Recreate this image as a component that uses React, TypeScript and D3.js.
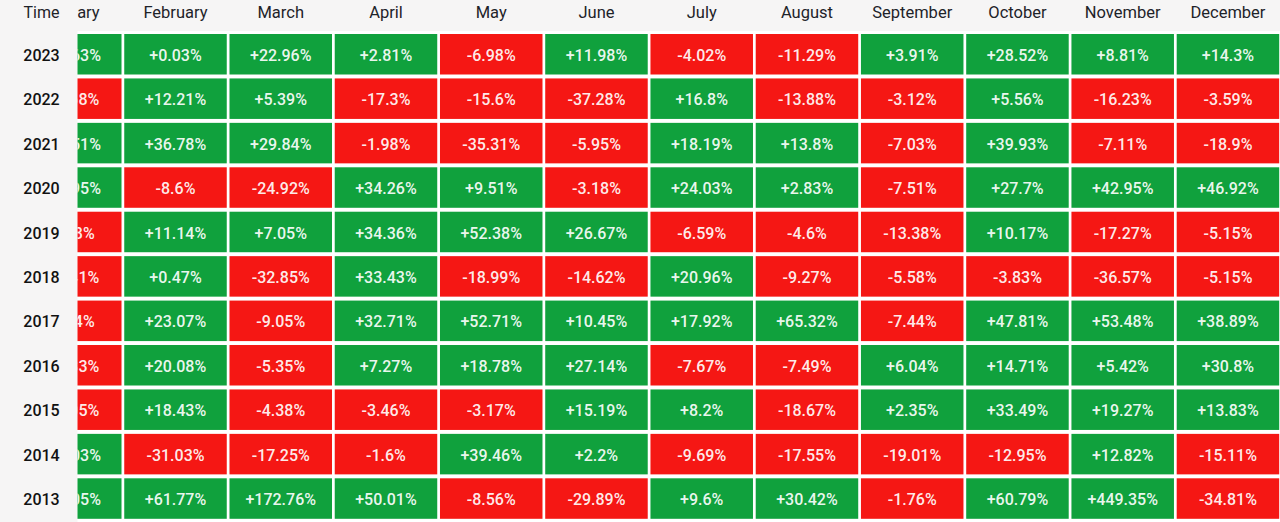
import React from 'react';
import * as d3 from 'd3';

// monthly returns (%), one array per year, January..December
const months = ['January', 'February', 'March', 'April', 'May', 'June', 'July', 'August', 'September', 'October', 'November', 'December'];
const years = ['2023', '2022', '2021', '2020', '2019', '2018', '2017', '2016', '2015', '2014', '2013'];

const r2023 = [39.63, 0.03, 22.96, 2.81, -6.98, 11.98, -4.02, -11.29, 3.91, 28.52, 8.81, 14.3];
const r2022 = [-16.68, 12.21, 5.39, -17.3, -15.6, -37.28, 16.8, -13.88, -3.12, 5.56, -16.23, -3.59];
const r2021 = [14.51, 36.78, 29.84, -1.98, -35.31, -5.95, 18.19, 13.8, -7.03, 39.93, -7.11, -18.9];
const r2020 = [29.95, -8.6, -24.92, 34.26, 9.51, -3.18, 24.03, 2.83, -7.51, 27.7, 42.95, 46.92];
const r2019 = [-8.58, 11.14, 7.05, 34.36, 52.38, 26.67, -6.59, -4.6, -13.38, 10.17, -17.27, -5.15];
const r2018 = [-25.41, 0.47, -32.85, 33.43, -18.99, -14.62, 20.96, -9.27, -5.58, -3.83, -36.57, -5.15];
const r2017 = [-0.04, 23.07, -9.05, 32.71, 52.71, 10.45, 17.92, 65.32, -7.44, 47.81, 53.48, 38.89];
const r2016 = [-14.83, 20.08, -5.35, 7.27, 18.78, 27.14, -7.67, -7.49, 6.04, 14.71, 5.42, 30.8];
const r2015 = [-33.05, 18.43, -4.38, -3.46, -3.17, 15.19, 8.2, -18.67, 2.35, 33.49, 19.27, 13.83];
const r2014 = [10.03, -31.03, -17.25, -1.6, 39.46, 2.2, -9.69, -17.55, -19.01, -12.95, 12.82, -15.11];
const r2013 = [44.05, 61.77, 172.76, 50.01, -8.56, -29.89, 9.6, 30.42, -1.76, 60.79, 449.35, -34.81];

const rows = [r2023, r2022, r2021, r2020, r2019, r2018, r2017, r2016, r2015, r2014, r2013];

const W = 1280;
const H = 522;
const stickyW = 77.5; // width of the fixed "Time" column
const headerH = 31;
const GREEN = '#10a13d';
const RED = '#f51714';
const BG = '#f6f5f5';
const FONT = 'Roboto, "Noto Sans", sans-serif';

const fmt = (v: number) => (v >= 0 ? '+' : '') + v + '%';

const App = () => {
  // table is scrolled a little to the right, so January sits partly under the Time column
  const x = d3.scaleBand<string>().domain(months).range([19, 1279.2]).paddingInner(0.026);
  const y = d3.scaleBand<string>().domain(years).range([34, 518.8]).paddingInner(0.0885);

  const cells = rows.flatMap((vals, i) =>
    vals.map((v, j) => ({ year: years[i], month: months[j], v }))
  );

  return (
    <div style={{ position: 'absolute', left: 0, top: 0 }}>
      <svg width={W} height={H} style={{ display: 'block', fontFamily: FONT }}>
        <defs>
          <clipPath id="scrollArea">
            <rect x={stickyW} y={0} width={W - stickyW} height={H} />
          </clipPath>
        </defs>
        <rect x={0} y={0} width={W} height={H} fill={BG} />
        <rect x={stickyW} y={headerH} width={W - stickyW} height={H - headerH} fill="#ffffff" />

        <g clipPath="url(#scrollArea)">
          {months.map((m) => (
            <text
              key={m}
              x={(x(m) as number) + x.bandwidth() / 2}
              y={12}
              dy="0.35em"
              textAnchor="middle"
              fontSize={16.5}
              fill="#1e2329"
            >
              {m}
            </text>
          ))}
          {cells.map((c) => {
            const cx = x(c.month) as number;
            const cy = y(c.year) as number;
            return (
              <g key={c.year + c.month}>
                <rect x={cx} y={cy} width={x.bandwidth()} height={y.bandwidth()} fill={c.v >= 0 ? GREEN : RED} />
                <text
                  x={cx + x.bandwidth() / 2}
                  y={cy + y.bandwidth() / 2 + 1}
                  dy="0.35em"
                  textAnchor="middle"
                  fontSize={16}
                  fontWeight={500}
                  fill="#ffffff"
                  fillOpacity={0.93}
                >
                  {fmt(c.v)}
                </text>
              </g>
            );
          })}
        </g>

        <text x={41.5} y={12} dy="0.35em" textAnchor="middle" fontSize={16} fill="#1e2329">
          Time
        </text>
        {years.map((yr) => (
          <text
            key={yr}
            x={41.5}
            y={(y(yr) as number) + y.bandwidth() / 2 + 1}
            dy="0.35em"
            textAnchor="middle"
            fontSize={16}
            fontWeight={500}
            fill="#111111"
          >
            {yr}
          </text>
        ))}
      </svg>
    </div>
  );
};

export default App;
